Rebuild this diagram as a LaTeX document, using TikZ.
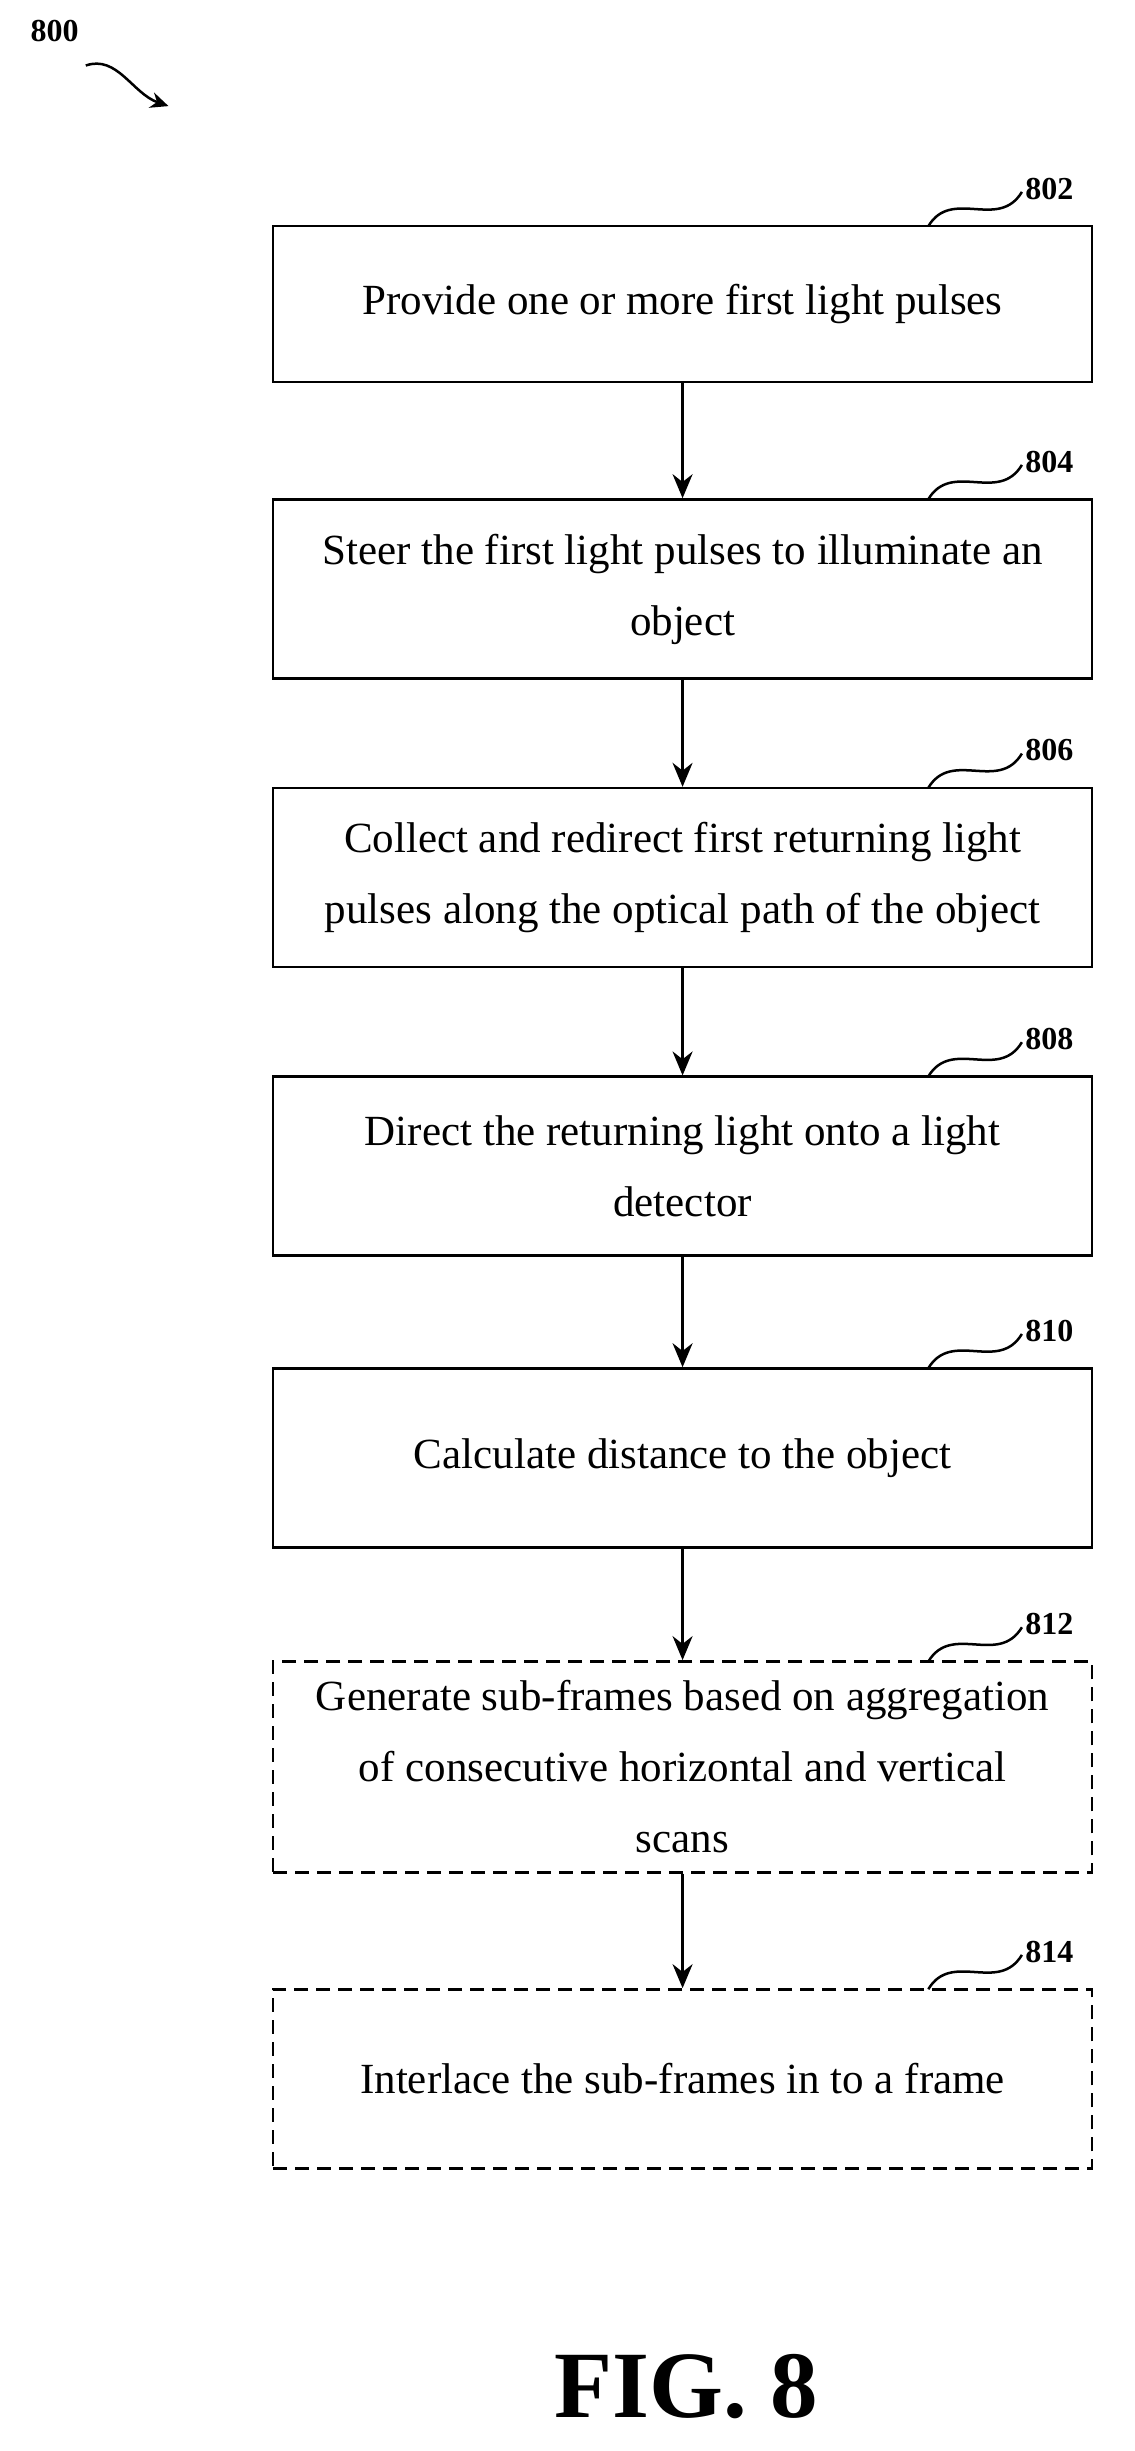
\documentclass[tikz,border=0pt]{standalone}
\usepackage{fontspec}
\setmainfont{Liberation Serif}
\usetikzlibrary{arrows.meta}
\begin{document}
\begin{tikzpicture}[x=1.56pt,y=-1.56pt,
 box/.style={draw,line width=2.5pt,minimum width=819pt,align=center,inner sep=0pt,font=\fontsize{43}{71}\selectfont},
 dbox/.style={box,dash pattern=on 14pt off 8pt},
 lab/.style={font=\bfseries\fontsize{32}{32}\selectfont},
 arr/.style={line width=2.5pt,-{Stealth[length=24pt,width=20pt]}},
 sq/.style={line width=2.5pt}]
\useasboundingbox (0,0) rectangle (727,1571);
\node[box,minimum height=156pt] (b1) at (437.5,195) {Provide one or more first light pulses};
\node[box,minimum height=179pt] (b2) at (437.5,377.5) {Steer the first light pulses to illuminate an\\object};
\node[box,minimum height=179pt] (b3) at (437.5,562.5) {Collect and redirect first returning light\\pulses along the optical path of the object};
\node[box,minimum height=179pt] (b4) at (437.5,747.5) {Direct the returning light onto a light\\detector};
\node[box,minimum height=179pt] (b5) at (437.5,934.5) {Calculate distance to the object};
\node[dbox,minimum height=211pt] (b6) at (437.5,1132.5) {Generate sub-frames based on aggregation\\of consecutive horizontal and vertical\\scans};
\node[dbox,minimum height=179pt] (b7) at (437.5,1332.5) {Interlace the sub-frames in to a frame};
\foreach \a/\b in {b1/b2,b2/b3,b3/b4,b4/b5,b5/b6,b6/b7} \draw[arr] (\a.south) -- (\b.north);
\foreach \n/\t/\y in {b1/802/145,b2/804/320,b3/806/505,b4/808/690,b5/810/877,b6/812/1065,b7/814/1275}{
 \coordinate (s\n) at (595,\y);
 \coordinate (e\n) at (655,\y-22);
 \draw[sq] (s\n) .. controls (610,\y-25) and (640,\y+3) .. (e\n);
 \node[lab,anchor=west] (l\n) at (655,\y-24) {\t};
}
\node[lab] (n800) at (35,20) {800};
\coordinate (a0) at (55,42);
\coordinate (a1) at (108,68);
\draw[sq,-{Stealth[length=18pt,width=16pt]}] (a0) .. controls (75,35) and (85,60) .. (a1);
\node[font=\bfseries\fontsize{95}{95}\selectfont] (fig) at (440,1530) {FIG. 8};
\end{tikzpicture}
\end{document}
